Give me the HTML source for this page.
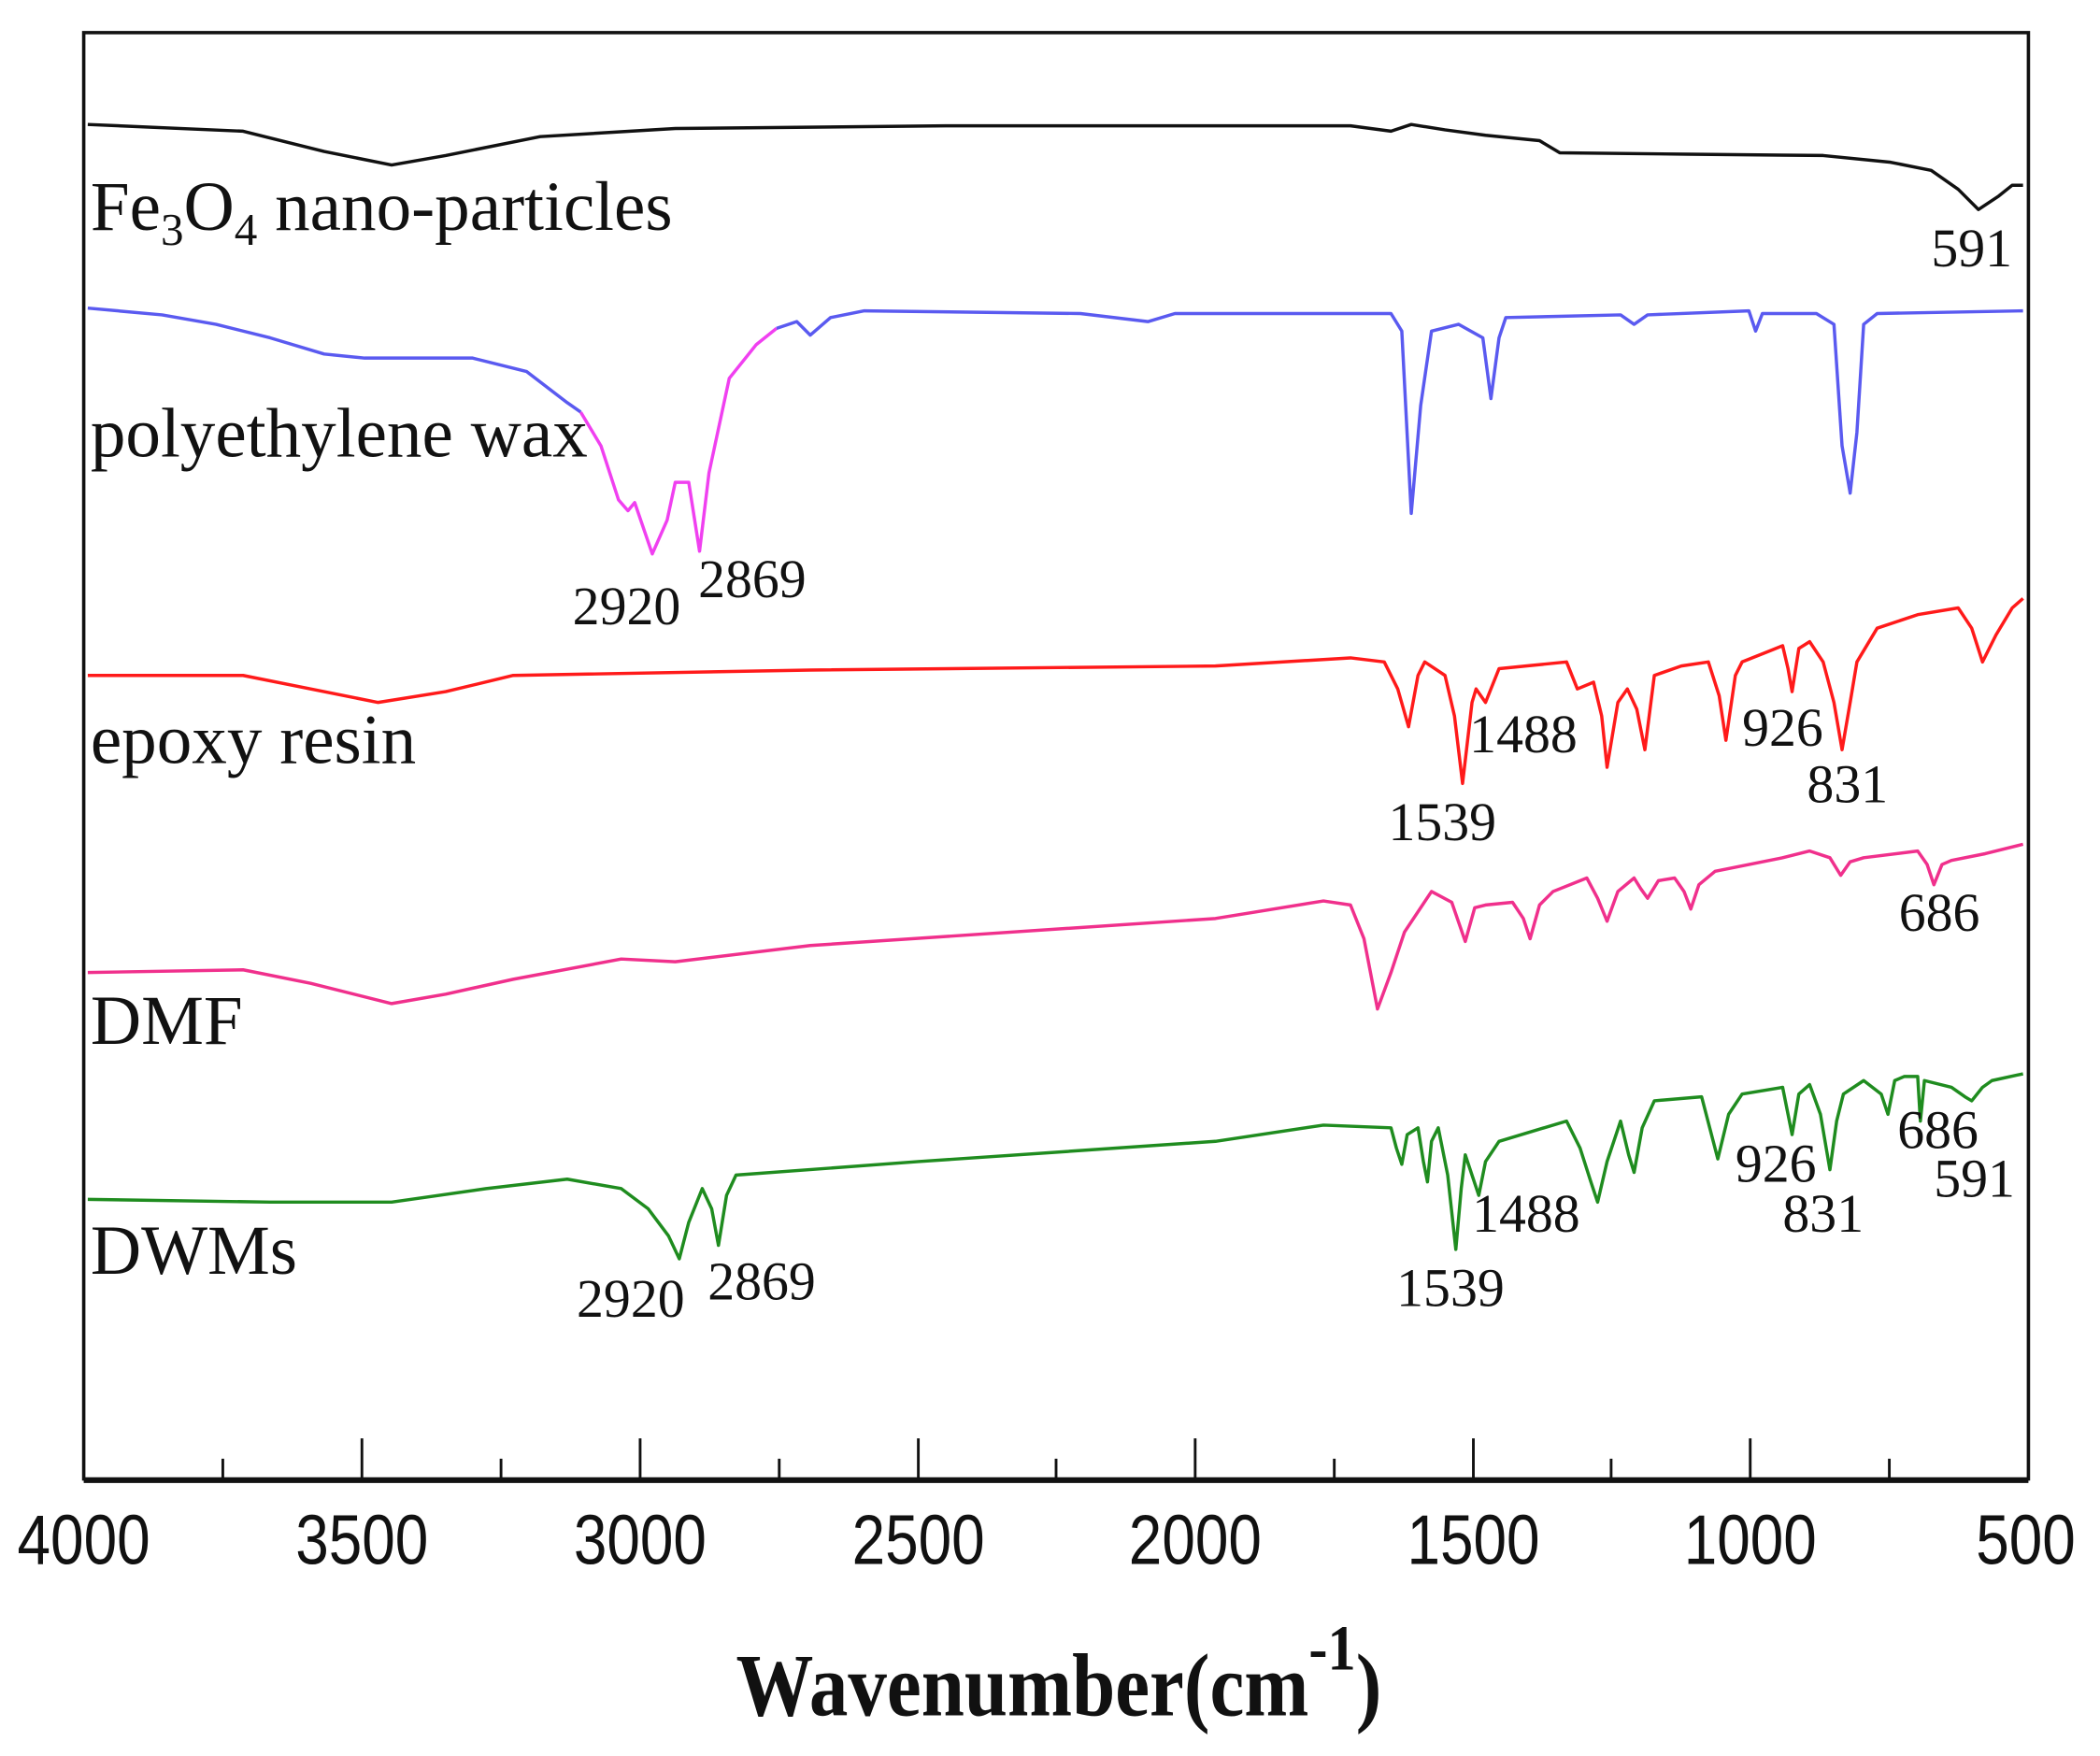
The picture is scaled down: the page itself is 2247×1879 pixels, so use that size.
<!DOCTYPE html>
<html><head><meta charset="utf-8"><style>
html,body{margin:0;padding:0;background:#fff;}
svg{display:block;}
.lab{font-family:"Liberation Serif",serif;font-size:52px;fill:#111;}
.pk{font-family:"Liberation Serif",serif;font-size:40px;fill:#111;}
.tk{font-family:"Liberation Sans",sans-serif;font-size:52px;fill:#111;}
</style></head><body>
<svg width="2247" height="1879" viewBox="0 0 1555 1300" xmlns="http://www.w3.org/2000/svg">
<rect width="1555" height="1300" fill="#fff"/>
<g fill="none" stroke-linejoin="round" stroke-width="2.4">
<path stroke="#111" d="M65,92 L180,97 L240,112 L290,122 L330,115 L400,101 L500,95 L700,93 L1000,93 L1030,97 L1045,92 L1070,96 L1100,100 L1140,104 L1155,113 L1250,114 L1350,115 L1400,120 L1430,126 L1450,140 L1465,155 L1480,145 L1490,137 L1498,137"/>
<path stroke="#5a5af0" d="M65,228 L120,233 L160,240 L200,250 L240,262 L270,265 L350,265 L390,275 L420,298 L430,305"/>
<path stroke="#f040f0" d="M430,305 L445,330 L458,370 L465,378 L470,372 L483,410 L494,385 L500,357 L510,357 L518,408 L525,350 L540,280 L560,255 L575,243"/>
<path stroke="#5a5af0" d="M575,243 L590,238 L600,248 L615,235 L640,230 L800,232 L850,238 L870,232 L1030,232 L1038,245 L1045,380 L1052,300 L1060,245 L1080,240 L1098,250 L1104,295 L1110,250 L1115,235 L1200,233 L1210,240 L1220,233 L1295,230 L1300,245 L1305,232 L1345,232 L1358,240 L1364,330 L1370,365 L1375,320 L1380,240 L1390,232 L1498,230"/>
<path stroke="#ff1a1a" d="M65,500 L180,500 L230,510 L280,520 L330,512 L380,500 L600,496 L900,493 L1000,487 L1025,490 L1035,510 L1043,538 L1050,500 L1055,490 L1070,500 L1077,530 L1083,580 L1090,520 L1093,510 L1100,520 L1110,495 L1130,493 L1160,490 L1168,510 L1180,505 L1186,530 L1190,568 L1198,520 L1205,510 L1212,525 L1218,555 L1225,500 L1245,493 L1265,490 L1273,515 L1278,548 L1285,500 L1290,490 L1310,482 L1320,478 L1324,495 L1327,512 L1332,480 L1340,475 L1350,490 L1358,520 L1364,555 L1370,520 L1375,490 L1390,465 L1420,455 L1450,450 L1460,465 L1468,490 L1478,470 L1490,450 L1498,443"/>
<path stroke="#f0308c" d="M65,720 L180,718 L230,728 L290,743 L330,736 L380,725 L460,710 L500,712 L600,700 L900,680 L980,667 L1000,670 L1010,695 L1020,747 L1030,720 L1040,690 L1060,660 L1075,668 L1085,697 L1092,672 L1100,670 L1120,668 L1128,680 L1133,695 L1140,670 L1150,660 L1175,650 L1183,665 L1190,682 L1198,660 L1210,650 L1215,658 L1220,665 L1228,652 L1240,650 L1247,660 L1252,673 L1258,655 L1270,645 L1320,635 L1340,630 L1355,635 L1363,648 L1370,638 L1380,635 L1420,630 L1427,640 L1432,655 L1438,640 L1445,637 L1470,632 L1498,625"/>
<path stroke="#1f8c1f" d="M65,888 L200,890 L290,890 L360,880 L420,873 L460,880 L480,895 L495,915 L503,932 L510,905 L520,880 L527,895 L532,922 L538,885 L545,870 L680,860 L900,845 L980,833 L1030,835 L1034,850 L1038,862 L1042,840 L1050,835 L1054,860 L1057,875 L1060,845 L1065,835 L1072,870 L1078,925 L1082,880 L1085,855 L1090,870 L1095,885 L1100,860 L1110,845 L1160,830 L1170,850 L1178,875 L1183,890 L1190,860 L1200,830 L1206,855 L1210,868 L1216,835 L1225,815 L1260,812 L1266,835 L1272,858 L1280,825 L1290,810 L1320,805 L1324,825 L1327,840 L1332,810 L1340,803 L1348,825 L1355,866 L1360,830 L1365,810 L1380,800 L1393,810 L1398,825 L1403,800 L1410,797 L1420,797 L1422,830 L1425,800 L1445,805 L1455,812 L1460,815 L1468,805 L1475,800 L1498,795"/>
</g>
<g stroke="#111" fill="none">
<rect x="62" y="24" width="1440" height="1071" stroke-width="2.5"/>
<line x1="62" y1="1096" x2="1502" y2="1096" stroke-width="4"/>
<path stroke-width="2" d="M268,1095V1065M474,1095V1065M680,1095V1065M885,1095V1065M1091,1095V1065M1296,1095V1065M165,1095V1080M371,1095V1080M577,1095V1080M782,1095V1080M988,1095V1080M1193,1095V1080M1399,1095V1080"/>
</g>
<g class="tk" text-anchor="middle">
<text x="62" y="1158" transform="translate(62,0) scale(0.85,1) translate(-62,0)">4000</text>
<text x="268" y="1158" transform="translate(268,0) scale(0.85,1) translate(-268,0)">3500</text>
<text x="474" y="1158" transform="translate(474,0) scale(0.85,1) translate(-474,0)">3000</text>
<text x="680" y="1158" transform="translate(680,0) scale(0.85,1) translate(-680,0)">2500</text>
<text x="885" y="1158" transform="translate(885,0) scale(0.85,1) translate(-885,0)">2000</text>
<text x="1091" y="1158" transform="translate(1091,0) scale(0.85,1) translate(-1091,0)">1500</text>
<text x="1296" y="1158" transform="translate(1296,0) scale(0.85,1) translate(-1296,0)">1000</text>
<text x="1500" y="1158" transform="translate(1500,0) scale(0.85,1) translate(-1500,0)">500</text>
</g>
<text x="545" y="1270" style="font-family:'Liberation Serif',serif;font-weight:bold;font-size:66px;fill:#111" transform="translate(545,0) scale(0.87,1) translate(-545,0)">Wavenumber(cm<tspan dy="-34" font-size="48">-1</tspan><tspan dy="34">)</tspan></text>
<text class="lab" x="67" y="170">Fe<tspan font-size="34" dy="11">3</tspan><tspan dy="-11">O</tspan><tspan font-size="34" dy="11">4</tspan><tspan dy="-11"> nano-particles</tspan></text>
<text class="lab" x="67" y="338">polyethylene wax</text>
<text class="lab" x="67" y="565">epoxy resin</text>
<text class="lab" x="67" y="773">DMF</text>
<text class="lab" x="67" y="943">DWMs</text>
<g class="pk">
<text x="1430" y="197">591</text>
<text x="424" y="462">2920</text>
<text x="517" y="442">2869</text>
<text x="1088" y="557">1488</text>
<text x="1290" y="552">926</text>
<text x="1028" y="622">1539</text>
<text x="1338" y="594">831</text>
<text x="1406" y="689">686</text>
<text x="1405" y="850">686</text>
<text x="1285" y="875">926</text>
<text x="1432" y="886">591</text>
<text x="1090" y="912">1488</text>
<text x="1320" y="912">831</text>
<text x="427" y="975">2920</text>
<text x="524" y="962">2869</text>
<text x="1034" y="967">1539</text>
</g>
</svg>
</body></html>
